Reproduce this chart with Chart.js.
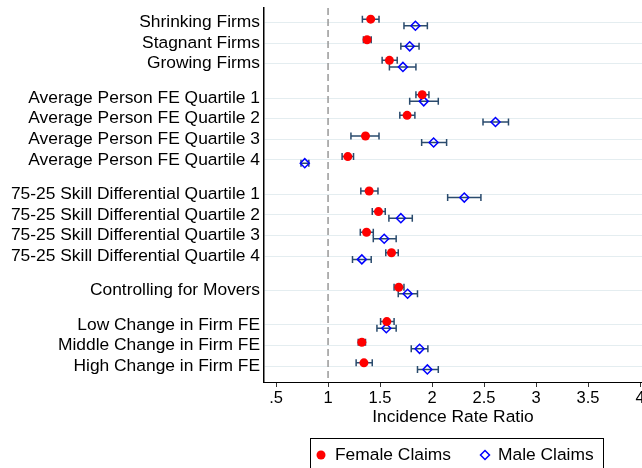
<!DOCTYPE html>
<html>
<head>
<meta charset="utf-8">
<script src="https://cdn.jsdelivr.net/npm/chart.js@4.4.0/dist/chart.umd.min.js"></script>
<style>
  html, body { margin: 0; padding: 0; background: #fff; }
  #wrap { width: 642px; height: 468px; }
</style>
</head>
<body>
<div id="wrap"><canvas id="irrChart" width="642" height="468"></canvas></div>
<script>
// --- DATA ---
const categories = [
    'Shrinking Firms', 'Stagnant Firms', 'Growing Firms',
    'Average Person FE Quartile 1', 'Average Person FE Quartile 2',
    'Average Person FE Quartile 3', 'Average Person FE Quartile 4',
    '75-25 Skill Differential Quartile 1', '75-25 Skill Differential Quartile 2',
    '75-25 Skill Differential Quartile 3', '75-25 Skill Differential Quartile 4',
    'Controlling for Movers',
    'Low Change in Firm FE', 'Middle Change in Firm FE', 'High Change in Firm FE'
];
const groupSizes = [3, 4, 4, 1, 3];

const femaleIRR = [1.41, 1.375, 1.59, 1.905, 1.76, 1.36, 1.19, 1.395, 1.485, 1.37, 1.61, 1.68, 1.565, 1.325, 1.345];
const femaleLo  = [1.33, 1.34, 1.52, 1.845, 1.69, 1.22, 1.135, 1.315, 1.425, 1.31, 1.555, 1.635, 1.505, 1.29, 1.27];
const femaleHi  = [1.49, 1.415, 1.665, 1.97, 1.835, 1.49, 1.245, 1.48, 1.55, 1.435, 1.675, 1.73, 1.635, 1.36, 1.425];

const maleIRR = [1.84, 1.785, 1.72, 1.92, 2.61, 2.015, 0.776, 2.31, 1.70, 1.54, 1.325, 1.765, 1.56, 1.88, 1.955];
const maleLo  = [1.73, 1.70, 1.59, 1.785, 2.49, 1.90, 0.74, 2.15, 1.585, 1.435, 1.235, 1.675, 1.47, 1.80, 1.86];
const maleHi  = [1.955, 1.875, 1.845, 2.06, 2.735, 2.14, 0.815, 2.47, 1.81, 1.655, 1.415, 1.86, 1.655, 1.96, 2.06];

const xTicks = [0.5, 1, 1.5, 2, 2.5, 3, 3.5, 4];
const xTickLabels = ['.5', '1', '1.5', '2', '2.5', '3', '3.5', '4'];

// --- ROW POSITIONS (groups separated by a gap) ---
const rowPos = [];
let pos = 0;
groupSizes.forEach(n => {
    for (let i = 0; i < n; i++) { rowPos.push(pos); pos += 1; }
    pos += 0.67;
});
const OFFSET = 0.16;
const FONT = "'Liberation Sans', Arial, sans-serif";
const CI_COLOR = '#2a4b6d';

Chart.defaults.font.family = FONT;
Chart.defaults.color = '#000';

// Reference line at 1 + confidence intervals, drawn under the markers
const ciPlugin = {
    id: 'ciPlugin',
    beforeDatasetsDraw(chart) {
        const { ctx, chartArea, scales: { x } } = chart;
        ctx.save();
        const xr = x.getPixelForValue(1);
        ctx.strokeStyle = '#999';
        ctx.lineWidth = 1.5;
        ctx.setLineDash([7, 4]);
        ctx.beginPath();
        ctx.moveTo(xr, chartArea.top);
        ctx.lineTo(xr, chartArea.bottom);
        ctx.stroke();
        ctx.setLineDash([]);

        const bounds = [[femaleLo, femaleHi], [maleLo, maleHi]];
        ctx.strokeStyle = CI_COLOR;
        ctx.lineWidth = 1.5;
        bounds.forEach(([lo, hi], d) => {
            const meta = chart.getDatasetMeta(d);
            meta.data.forEach((pt, i) => {
                const x0 = x.getPixelForValue(lo[i]);
                const x1 = x.getPixelForValue(hi[i]);
                const y = pt.y;
                ctx.beginPath();
                ctx.moveTo(x0, y); ctx.lineTo(x1, y);
                ctx.moveTo(x0, y - 3.5); ctx.lineTo(x0, y + 3.5);
                ctx.moveTo(x1, y - 3.5); ctx.lineTo(x1, y + 3.5);
                ctx.stroke();
            });
        });
        ctx.restore();
    }
};

// Boxed legend below the axis title
const boxLegend = {
    id: 'boxLegend',
    afterDraw(chart) {
        const { ctx } = chart;
        ctx.save();
        ctx.strokeStyle = '#000';
        ctx.lineWidth = 1;
        ctx.strokeRect(310.5, 438.5, 293, 40);
        const y = 455;
        ctx.fillStyle = 'red';
        ctx.beginPath();
        ctx.arc(321, y, 4.5, 0, Math.PI * 2);
        ctx.fill();
        ctx.strokeStyle = 'blue';
        ctx.lineWidth = 1.5;
        ctx.beginPath();
        ctx.moveTo(485, y - 4.5); ctx.lineTo(489.5, y);
        ctx.lineTo(485, y + 4.5); ctx.lineTo(480.5, y);
        ctx.closePath();
        ctx.stroke();
        ctx.fillStyle = '#000';
        ctx.font = '17.4px ' + FONT;
        ctx.textBaseline = 'middle';
        ctx.fillText(chart.data.datasets[0].label, 335, y);
        ctx.fillText(chart.data.datasets[1].label, 498, y);
        ctx.restore();
    }
};

const ctxIrr = document.getElementById('irrChart').getContext('2d');
new Chart(ctxIrr, {
    type: 'scatter',
    data: {
        datasets: [
            {
                label: 'Female Claims',
                data: femaleIRR.map((v, i) => ({ x: v, y: rowPos[i] - OFFSET })),
                pointStyle: 'circle',
                pointRadius: 4.5,
                backgroundColor: 'red',
                borderColor: 'red',
                borderWidth: 0
            },
            {
                label: 'Male Claims',
                data: maleIRR.map((v, i) => ({ x: v, y: rowPos[i] + OFFSET })),
                pointStyle: 'rectRot',
                pointRadius: 4.5,
                backgroundColor: 'rgba(0,0,0,0)',
                borderColor: 'blue',
                borderWidth: 1.5
            }
        ]
    },
    options: {
        responsive: false,
        animation: false,
        devicePixelRatio: 1,
        layout: { autoPadding: false, padding: { top: 8, right: 0, left: 0, bottom: 36 } },
        plugins: { legend: { display: false }, tooltip: { enabled: false } },
        scales: {
            x: {
                type: 'linear',
                min: 0.384,
                max: 4.019,
                afterBuildTicks: s => { s.ticks = xTicks.map(v => ({ value: v })); },
                afterFit: s => { s.height = 50; s.paddingLeft = 0; s.paddingRight = 0; },
                ticks: {
                    callback: (v, i) => xTickLabels[i],
                    font: { size: 16.5 },
                    padding: 2,
                    maxRotation: 0,
                    autoSkip: false
                },
                grid: { drawOnChartArea: false, drawTicks: true, tickLength: 5, color: '#333' },
                border: { color: '#000', width: 1 },
                title: { display: true, text: 'Incidence Rate Ratio', font: { size: 17.4 }, padding: { top: 0, bottom: 4 } }
            },
            y: {
                type: 'linear',
                reverse: true,
                min: -0.7,
                max: 17.45,
                afterBuildTicks: s => { s.ticks = rowPos.map(v => ({ value: v })); },
                afterFit: s => { s.width = 264; s.paddingTop = 0; s.paddingBottom = 0; },
                ticks: {
                    callback: (v, i) => categories[i],
                    font: { size: 17.4 },
                    padding: 4,
                    autoSkip: false
                },
                grid: { color: '#e4edf0', lineWidth: 1, drawTicks: false },
                border: { color: '#000', width: 1.5 }
            }
        }
    },
    plugins: [ciPlugin, boxLegend]
});
</script>
</body>
</html>
